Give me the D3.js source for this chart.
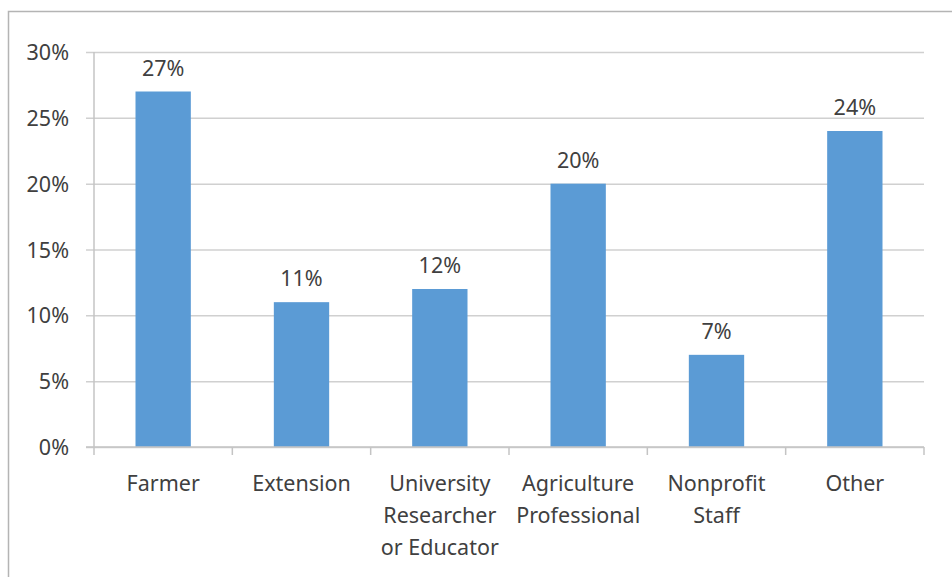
<!DOCTYPE html>
<html>
<head>
<meta charset="utf-8">
<script src="https://cdn.jsdelivr.net/npm/d3@7"></script>
<style>
  html, body { margin: 0; padding: 0; background: #fff; }
  svg { display: block; }
  text { font-family: "Noto Sans", "Open Sans", sans-serif; fill: #404040; }
</style>
</head>
<body>
<svg id="chart" width="952" height="577"></svg>
<script>
const categories = ["Farmer", "Extension", "University\nResearcher\nor Educator", "Agriculture\nProfessional", "Nonprofit\nStaff", "Other"];
const values = [0.27, 0.11, 0.12, 0.20, 0.07, 0.24];
const yTicks = [0, 0.05, 0.10, 0.15, 0.20, 0.25, 0.30];

(function () {
const svg = d3.select("#chart");
const pLeft = 94, pRight = 924, pTop = 52, pBottom = 447;

// outer border
svg.append("rect")
  .attr("x", 8.5).attr("y", 11.5)
  .attr("width", 1000).attr("height", 700)
  .attr("fill", "none").attr("stroke", "#b4b4b4").attr("stroke-width", 1.5);

const x = d3.scaleBand().domain(categories).range([pLeft, pRight]).paddingInner(0.6).paddingOuter(0.3);
const y = d3.scaleLinear().domain([0, 0.30]).range([pBottom, pTop]);

// gridlines + y axis ticks
const yAxis = d3.axisLeft(y).tickValues(yTicks).tickSize(-(pRight - pLeft)).tickPadding(0).tickFormat(d3.format(".0%"));
const gy = svg.append("g").attr("transform", `translate(${pLeft},0)`).call(yAxis);
gy.select(".domain").remove();
gy.selectAll(".tick line").attr("x1", -8).attr("stroke", "#d0d0d0").attr("stroke-width", 1.5);
gy.selectAll(".tick text").attr("x", -25).attr("font-size", 21.5).attr("fill", "#404040").attr("dy", "0.35em")
  .attr("font-family", "'Noto Sans', 'Open Sans', sans-serif");

// y axis line
svg.append("line").attr("x1", pLeft).attr("x2", pLeft).attr("y1", pTop).attr("y2", pBottom)
  .attr("stroke", "#c4c4c4").attr("stroke-width", 1.5);

// bars
svg.append("g").selectAll("rect").data(values).join("rect")
  .attr("x", (d, i) => x(categories[i]))
  .attr("y", d => y(d))
  .attr("width", x.bandwidth())
  .attr("height", d => y(0) - y(d))
  .attr("fill", "#5b9bd5");

// x axis line + boundary ticks
svg.append("line").attr("x1", pLeft - 8).attr("x2", pRight).attr("y1", pBottom).attr("y2", pBottom)
  .attr("stroke", "#c4c4c4").attr("stroke-width", 1.5);
const step = x.step();
const bounds = d3.range(categories.length + 1).map(i => pLeft + i * step);
svg.append("g").selectAll("line").data(bounds).join("line")
  .attr("x1", d => d).attr("x2", d => d).attr("y1", pBottom).attr("y2", pBottom + 8)
  .attr("stroke", "#c4c4c4").attr("stroke-width", 1.5);

// data labels
svg.append("g").selectAll("text").data(values).join("text")
  .attr("x", (d, i) => x(categories[i]) + x.bandwidth() / 2)
  .attr("y", d => y(d) - 16)
  .attr("text-anchor", "middle")
  .attr("font-size", 21.5)
  .text(d => d3.format(".0%")(d));

// category labels
const cl = svg.append("g").selectAll("text").data(categories).join("text")
  .attr("x", d => x(d) + x.bandwidth() / 2)
  .attr("y", 491)
  .attr("text-anchor", "middle")
  .attr("font-size", 21.5);
cl.each(function (d) {
  const t = d3.select(this);
  d.split("\n").forEach((line, i) => {
    t.append("tspan").attr("x", x(d) + x.bandwidth() / 2).attr("dy", i === 0 ? 0 : 32).text(line);
  });
});
})();
</script>
</body>
</html>
